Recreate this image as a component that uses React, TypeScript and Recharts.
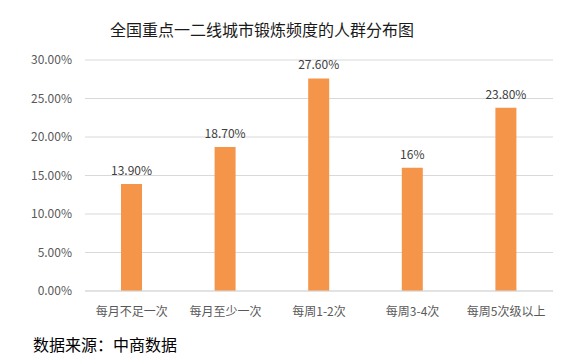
import React from 'react'
import { BarChart, Bar, XAxis, YAxis, CartesianGrid, LabelList } from 'recharts'

const categories = ['每月不足一次', '每月至少一次', '每周1-2次', '每周3-4次', '每周5次级以上']
const shares = [13.9, 18.7, 27.6, 16, 23.8]
const shareLabels = ['13.90%', '18.70%', '27.60%', '16%', '23.80%']
const yTicks = [0, 5, 10, 15, 20, 25, 30]

const chartData = categories.map((name, i) => ({ name, value: shares[i], label: shareLabels[i] }))

const FONT = '"Microsoft YaHei", "Noto Sans CJK SC", "Noto Sans", sans-serif'

const App: React.FC = () => {
	return (
		<div style={{ position: 'relative', width: 573, height: 364, margin: -8, background: '#fff', fontFamily: FONT }}>
			{/* 标题 */}
			<div style={{ position: 'absolute', left: 110, top: 18, fontSize: 16, color: '#1a1a1a', whiteSpace: 'nowrap', lineHeight: '22px' }}>
				全国重点一二线城市锻炼频度的人群分布图
			</div>
			<BarChart
				width={573}
				height={364}
				data={chartData}
				margin={{ top: 60, right: 20, left: 0, bottom: 43 }}
			>
				<CartesianGrid vertical={false} stroke="#d9d9d9" />
				<XAxis
					dataKey="name"
					axisLine={{ stroke: '#d9d9d9' }}
					tickLine={false}
					tickMargin={10}
					height={30}
					interval={0}
					tick={{ fontSize: 12, fill: '#595959', fontFamily: FONT }}
				/>
				<YAxis
					domain={[0, 30]}
					ticks={yTicks}
					width={85}
					axisLine={false}
					tickLine={false}
					tickMargin={7}
					tickFormatter={(v: number) => `${v.toFixed(2)}%`}
					tick={{ fontSize: 12, fill: '#595959', fontFamily: FONT }}
				/>
				<Bar dataKey="value" fill="#F5954A" barSize={21} isAnimationActive={false}>
					<LabelList dataKey="label" position="top" offset={9} style={{ fontSize: 12, fill: '#404040', fontFamily: FONT }} />
				</Bar>
			</BarChart>
			{/* 数据来源 */}
			<div style={{ position: 'absolute', left: 33, top: 333, fontSize: 16, color: '#000', whiteSpace: 'nowrap', lineHeight: '22px' }}>
				数据来源：中商数据
			</div>
		</div>
	)
}

export default App
